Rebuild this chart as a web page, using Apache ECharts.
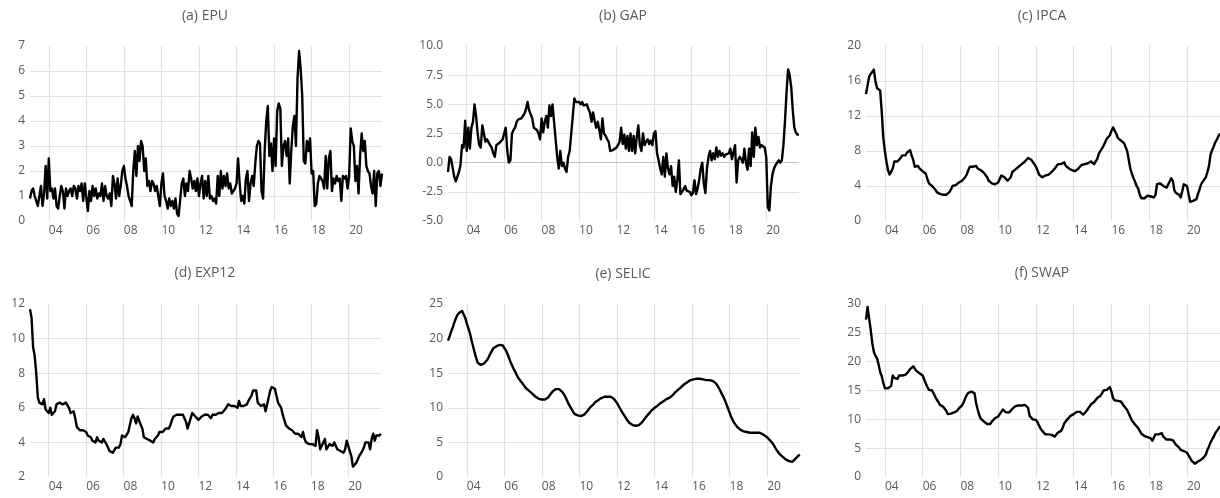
<!DOCTYPE html>
<html>
<head>
<meta charset="utf-8">
<script src="https://cdn.jsdelivr.net/npm/echarts@6/dist/echarts.min.js"></script>
<style>
  html, body { margin: 0; padding: 0; background: #fff; }
  #main { width: 1220px; height: 498px; }
</style>
</head>
<body>
<div id="main"></div>
<script>
// monthly observations, Jan 2003 .. Oct 2021
let months = [];
for (let y = 2003; y <= 2021; y++) {
  for (let m = 1; m <= 12; m++) months.push(y + "-" + String(m).padStart(2, "0"));
}
months = months.slice(0, 226);

// years that get a label + vertical gridline
const tickYears = ["04", "06", "08", "10", "12", "14", "16", "18", "20"];

const epu = [
  0.9, 1.2, 1.3, 1.0, 0.8, 0.6, 0.6, 1.4, 0.6, 1.1, 2.2, 0.9,
  2.5, 1.2, 1.3, 0.9, 1.3, 0.6, 0.5, 1.0, 1.4, 1.2, 0.5, 1.3,
  1.0, 1.2, 1.3, 1.0, 1.4, 1.3, 0.9, 1.4, 1.2, 1.5, 0.8, 1.5,
  1.5, 0.4, 1.2, 0.8, 1.4, 1.0, 1.3, 0.9, 1.1, 1.0, 1.5, 0.8,
  1.4, 1.0, 0.9, 1.1, 0.6, 1.8, 1.5, 0.9, 1.7, 1.0, 1.4, 2.0,
  2.2, 1.7, 1.4, 1.0, 0.8, 0.6, 2.0, 2.8, 1.8, 3.0, 2.4, 3.2,
  3.0, 2.0, 2.5, 1.4, 1.6, 1.2, 1.6, 1.5, 1.2, 1.4, 1.0, 0.6,
  1.5, 1.9, 1.0, 0.8, 0.5, 0.9, 0.6, 0.8, 0.5, 0.9, 0.3, 0.2,
  0.2, 1.5, 1.7, 1.0, 1.5, 1.2, 2.0, 1.7, 1.3, 1.6, 1.2, 1.7,
  1.0, 1.5, 1.8, 0.9, 1.6, 1.0, 1.8, 0.9, 1.0, 0.8, 0.9, 0.7,
  1.8, 1.0, 2.0, 1.3, 1.8, 1.4, 1.9, 1.3, 1.5, 1.1, 1.1, 1.3,
  1.5, 2.5, 1.5, 0.8, 1.0, 0.7, 1.7, 2.0, 0.8, 1.5, 1.8, 1.4,
  2.3, 3.0, 3.2, 3.1, 1.2, 0.9, 2.8, 4.0, 4.6, 2.6, 3.1, 2.0,
  3.3, 2.2, 4.4, 4.7, 4.5, 2.2, 3.0, 3.2, 2.6, 3.3, 1.5, 2.8,
  3.8, 4.2, 3.0, 5.7, 6.8, 6.1, 5.0, 2.4, 2.3, 3.2, 2.8, 3.3,
  1.9, 2.0, 0.6, 0.7, 1.5, 1.8, 1.7, 1.6, 1.3, 2.6, 1.3, 2.5,
  2.8, 1.2, 1.7, 1.5, 1.8, 1.6, 1.7, 0.8, 1.8, 1.7, 1.8, 1.3,
  1.8, 3.7, 3.2, 3.0, 1.6, 2.2, 1.1, 2.6, 3.5, 2.8, 3.2, 2.2,
  2.0, 1.9, 1.4, 1.1, 2.0, 0.6, 1.9, 2.0, 1.4, 1.9
];

const gap = [
  -0.8, 0.5, 0.3, 0.2, -1.2, -1.6, -1.5, -0.8, -0.2, 1.5, 1.3, 3.6,
  1.0, 3.0, 1.2, 3.0, 3.5, 5.0, 4.0, 2.5, 1.5, 1.3, 3.2, 2.5,
  1.8, 2.0, 1.9, 1.5, 1.3, 0.8, 0.5, 1.5, 1.6, 1.7, 1.8, 2.0,
  2.0, 3.0, 1.0, 0.0, 0.2, 2.5, 2.8, 3.0, 3.5, 3.7, 3.6, 3.8,
  4.0, 4.2, 4.6, 5.2, 4.5, 4.6, 3.8, 3.0, 2.9, 2.8, 2.5, 2.0,
  3.8, 2.6, 3.5, 4.0, 3.0, 4.9, 4.0, 5.0, 3.5, 2.0, 0.5, -0.5,
  1.0, -0.3, 0.0, -0.5, -0.8, 0.5, 1.0, 2.5, 4.0, 5.5, 5.2, 5.3,
  5.2, 5.0, 5.2, 4.9, 4.8, 5.0, 4.6, 4.3, 3.5, 4.3, 3.6, 3.0,
  3.5, 2.8, 2.0, 3.8, 2.5, 2.3, 2.0, 1.8, 1.0, 1.0, 1.1, 1.2,
  1.3, 1.5, 1.8, 3.0, 1.6, 2.4, 1.2, 2.3, 1.0, 2.5, 1.0, 2.3,
  0.8, 2.2, 3.2, 1.5, 1.0, 2.5, 1.5, 1.8, 2.0, 1.6, 1.9, 1.5,
  2.5, 2.7, 0.8, 0.2, -0.5, -1.0, 0.5, -1.2, 0.8, -0.5, -1.0, -0.3,
  -2.0, -1.2, -2.5, -1.5, 0.2, -2.7, -2.5, -2.3, -2.0, -2.4, -2.3, -2.5,
  -2.8, -2.6, -1.5, -2.7, -2.2, -1.5, -0.5, 0.0, -1.8, -2.6, -0.5, 0.5,
  1.0, 0.2, 0.8, 0.3, 1.3, 0.5, 1.0, 0.6, 0.8, 0.5, 0.7, 0.6,
  0.8, 1.2, 0.3, 0.2, 1.5, -1.7, 0.2, 0.5, 0.3, 0.0, 1.2, 0.0,
  -0.6, 1.2, -0.3, 2.6, 0.5, 3.0, 1.5, 2.2, 1.3, 1.5, 1.4, 1.3,
  0.5, -3.8, -4.1, -2.0, -1.0, -0.5, -0.2, 0.0, 0.2, 0.0, 0.2, 1.5,
  3.5, 6.0, 8.0, 7.5, 6.5, 4.5, 3.0, 2.6, 2.4, 2.4
];

const ipca = [
  14.5, 15.5, 16.5, 16.8, 17.0, 17.3, 16.0, 15.2, 15.0, 14.9, 12.5, 9.5,
  8.0, 6.8, 5.8, 5.3, 5.2, 6.0, 6.8, 7.0, 6.8, 7.0, 7.2, 7.5,
  7.5, 7.5, 7.8, 7.9, 8.1, 7.5, 7.0, 6.2, 6.0, 6.3, 6.0, 5.8,
  5.7, 5.5, 5.4, 4.8, 4.3, 4.1, 4.0, 3.8, 3.6, 3.3, 3.2, 3.1,
  3.0, 3.0, 3.0, 3.0, 3.0, 3.3, 3.6, 4.0, 4.0, 4.1, 4.2, 4.4,
  4.5, 4.6, 4.8, 5.0, 5.3, 5.8, 6.2, 6.4, 6.2, 6.4, 6.3, 6.0,
  5.8, 5.8, 5.6, 5.5, 5.3, 5.0, 4.6, 4.4, 4.3, 4.3, 4.2, 4.2,
  4.4, 4.8, 5.2, 5.3, 5.0, 4.8, 4.6, 4.6, 5.0, 5.6, 5.8, 5.9,
  6.0, 6.2, 6.4, 6.5, 6.7, 6.8, 6.9, 7.2, 7.3, 7.0, 6.8, 6.5,
  6.2, 5.8, 5.3, 5.1, 5.0, 5.0, 5.2, 5.2, 5.3, 5.4, 5.6, 5.8,
  6.0, 6.2, 6.5, 6.6, 6.5, 6.6, 6.7, 6.3, 6.1, 6.0, 5.9, 5.8,
  5.8, 5.7, 5.8, 6.0, 6.2, 6.4, 6.5, 6.5, 6.6, 6.6, 6.7, 6.8,
  6.6, 6.5, 6.5, 7.1, 7.7, 8.0, 8.3, 8.6, 9.0, 9.4, 9.5, 9.8,
  10.3, 10.7, 10.6, 10.0, 9.5, 9.4, 9.2, 9.0, 8.9, 8.7, 8.0, 7.0,
  6.0, 5.4, 4.9, 4.5, 4.0, 3.7, 3.0, 2.6, 2.5, 2.6, 2.7, 2.9,
  2.9, 2.8, 2.8, 2.7, 3.0, 4.2, 4.4, 4.3, 4.4, 4.0, 3.8, 3.8,
  3.8, 4.5, 4.9, 4.6, 3.5, 3.2, 3.4, 3.0, 2.7, 3.4, 4.2, 4.3,
  4.0, 3.1, 2.2, 2.0, 2.3, 2.4, 2.5, 3.1, 3.6, 4.2, 4.5, 4.6,
  5.0, 5.6, 6.3, 7.6, 8.1, 8.5, 9.0, 9.3, 9.7, 10.0
];

const exp12 = [
  11.7, 11.2, 9.5, 9.0, 8.0, 6.6, 6.3, 6.4, 6.2, 6.5, 5.9, 6.0,
  5.7, 6.0, 5.6, 5.5, 5.8, 6.2, 6.3, 6.3, 6.2, 6.2, 6.3, 6.3,
  6.2, 6.0, 5.7, 5.6, 5.8, 5.4, 4.9, 4.8, 4.7, 4.7, 4.7, 4.6,
  4.6, 4.4, 4.5, 4.3, 4.1, 4.0, 4.0, 4.3, 4.1, 4.0, 4.0, 4.2,
  4.1, 3.9, 3.8, 3.5, 3.4, 3.4, 3.5, 3.7, 3.8, 3.7, 3.9, 4.4,
  4.4, 4.3, 4.4, 4.6, 5.0, 5.4, 5.6, 5.4, 5.1, 5.5, 5.4, 5.0,
  4.8, 4.3, 4.2, 4.2, 4.1, 4.1, 4.1, 4.0, 4.2, 4.3, 4.4, 4.6,
  4.6, 4.6, 4.7, 4.8, 4.7, 4.8, 5.0, 5.3, 5.5, 5.6, 5.6, 5.6,
  5.6, 5.6, 5.6, 5.5, 5.2, 4.8, 4.7, 5.4, 5.7, 5.6, 5.5, 5.4,
  5.3, 5.4, 5.5, 5.5, 5.6, 5.5, 5.6, 5.5, 5.4, 5.6, 5.5, 5.6,
  5.6, 5.7, 5.7, 5.7, 5.8, 5.9, 6.0, 6.2, 6.1, 6.1, 6.0, 6.1,
  6.2, 6.0, 6.4, 6.1, 6.1, 6.1, 6.0, 6.2, 6.4, 6.5, 6.7, 7.0,
  6.9, 7.0, 6.3, 6.2, 6.1, 6.0, 6.2, 5.8, 5.7, 6.6, 7.0, 7.2,
  7.3, 7.1, 6.7, 6.3, 6.2, 6.0, 5.6, 5.3, 5.0, 4.9, 4.8, 4.8,
  4.7, 4.6, 4.5, 4.4, 4.5, 4.4, 4.3, 4.6, 4.2, 4.0, 4.1, 3.9,
  3.9, 3.9, 3.8, 3.8, 4.7, 4.3, 3.6, 3.8, 4.0, 4.2, 3.6, 3.5,
  3.9, 4.0, 3.8, 4.0, 3.8, 3.6, 3.6, 3.5, 3.5, 3.4, 3.6, 4.1,
  3.8, 3.5, 3.2, 2.6, 2.5, 2.8, 3.0, 3.2, 3.3, 3.5, 3.7, 4.0,
  4.1, 4.0, 3.6, 4.2, 4.5, 4.1, 4.4, 4.4, 4.4, 4.5
];

const selic = [
  19.7, 20.3, 21.0, 21.6, 22.3, 22.9, 23.4, 23.7, 23.9, 24.0, 23.8, 23.0,
  22.2, 21.5, 20.8, 19.8, 18.9, 18.0, 17.2, 16.5, 16.3, 16.2, 16.3, 16.4,
  16.6, 16.9, 17.3, 17.8, 18.2, 18.6, 18.8, 18.9, 19.0, 19.1, 19.2, 19.0,
  18.8, 18.3, 17.8, 17.2, 16.6, 16.1, 15.6, 15.2, 14.7, 14.3, 14.0, 13.7,
  13.4, 13.1, 12.8, 12.6, 12.4, 12.2, 12.0, 11.8, 11.6, 11.4, 11.3, 11.2,
  11.2, 11.2, 11.2, 11.3, 11.5, 11.8, 12.1, 12.4, 12.6, 12.7, 12.8, 12.7,
  12.6, 12.3, 12.0, 11.6, 11.1, 10.6, 10.2, 9.8, 9.4, 9.1, 9.0, 8.9,
  8.8, 8.8, 8.9, 9.0, 9.2, 9.5, 9.8, 10.1, 10.3, 10.5, 10.8, 11.0,
  11.1, 11.3, 11.4, 11.5, 11.6, 11.6, 11.6, 11.6, 11.6, 11.5, 11.3, 11.0,
  10.7, 10.3, 9.9, 9.5, 9.1, 8.8, 8.4, 8.1, 7.8, 7.6, 7.5, 7.4,
  7.4, 7.4, 7.5, 7.6, 7.9, 8.2, 8.5, 8.8, 9.0, 9.3, 9.6, 9.8,
  10.0, 10.2, 10.3, 10.5, 10.7, 10.8, 11.0, 11.2, 11.3, 11.4, 11.5, 11.7,
  11.9, 12.2, 12.4, 12.6, 12.8, 13.0, 13.2, 13.4, 13.6, 13.7, 13.9, 14.0,
  14.1, 14.1, 14.2, 14.2, 14.2, 14.2, 14.2, 14.1, 14.1, 14.0, 14.0, 14.0,
  14.0, 13.9, 13.8, 13.6, 13.3, 12.9, 12.5, 12.0, 11.6, 11.1, 10.5, 9.9,
  9.3, 8.7, 8.2, 7.8, 7.5, 7.2, 7.0, 6.8, 6.7, 6.6, 6.5, 6.5,
  6.4, 6.4, 6.4, 6.4, 6.4, 6.4, 6.4, 6.4, 6.3, 6.2, 6.1, 5.9,
  5.8, 5.5, 5.3, 5.0, 4.7, 4.3, 3.9, 3.6, 3.3, 3.1, 2.9, 2.7,
  2.5, 2.4, 2.3, 2.2, 2.2, 2.4, 2.6, 2.8, 3.1, 3.2
];

const swap = [
  27.3, 29.5, 27.5, 25.5, 23.2, 21.7, 21.0, 20.6, 19.5, 18.2, 17.5, 16.3,
  15.4, 15.3, 15.4, 15.2, 15.8, 17.6, 17.2, 17.5, 17.0, 17.6, 17.7, 17.6,
  17.6, 17.7, 17.8, 18.3, 18.7, 19.0, 19.2, 18.9, 18.4, 18.2, 18.0, 17.9,
  17.6, 16.9, 16.2, 15.6, 15.1, 14.8, 15.0, 14.5, 13.9, 13.4, 13.0, 12.5,
  12.4, 12.2, 11.9, 11.5, 10.9, 10.8, 11.0, 11.3, 11.2, 11.3, 11.5, 11.9,
  12.0, 12.4, 12.9, 13.6, 14.2, 14.6, 14.6, 14.8, 15.0, 14.5, 12.8, 11.7,
  10.7, 10.1, 9.8, 9.6, 9.3, 9.2, 9.1, 9.2, 9.6, 9.9, 10.2, 10.4,
  10.5, 10.8, 11.3, 11.7, 11.5, 11.2, 11.2, 11.2, 11.3, 11.8, 12.1, 12.3,
  12.3, 12.4, 12.4, 12.4, 12.4, 12.5, 12.4, 12.0, 10.6, 10.3, 10.0, 9.9,
  9.9, 9.5, 8.9, 8.4, 8.0, 7.7, 7.4, 7.3, 7.4, 7.4, 7.3, 7.2,
  7.0, 7.2, 7.7, 7.9, 8.0, 8.5, 9.3, 9.6, 10.0, 10.3, 10.6, 10.7,
  10.9, 11.2, 11.3, 11.3, 11.3, 11.0, 10.8, 11.0, 11.4, 11.8, 12.2, 12.6,
  12.7, 13.0, 13.3, 13.7, 14.0, 14.1, 14.5, 15.0, 15.3, 15.1, 15.3, 15.6,
  14.8, 13.7, 13.3, 13.0, 13.2, 13.2, 13.1, 12.8, 12.3, 12.2, 11.6, 11.0,
  10.4, 9.8, 9.5, 9.1, 8.9, 8.5, 8.0, 7.5, 7.2, 7.1, 7.0, 6.9,
  6.7, 6.7, 6.3, 6.2, 7.4, 7.6, 7.4, 7.7, 7.6, 7.0, 6.8, 6.5,
  6.4, 6.5, 6.5, 6.4, 6.1, 5.6, 5.4, 5.1, 4.7, 4.5, 4.5, 4.4,
  4.2, 3.9, 3.3, 2.8, 2.5, 2.3, 2.4, 2.7, 2.9, 3.0, 3.1, 3.5,
  3.9, 4.7, 5.3, 6.0, 6.5, 7.0, 7.6, 8.0, 8.4, 8.8
];

const titles = ["(a) EPU", "(b) GAP", "(c) IPCA", "(d) EXP12", "(e) SELIC", "(f) SWAP"];
const seriesData = [epu, gap, ipca, exp12, selic, swap];
const yMin = [0, -5, 0, 2, 0, 0];
const yMax = [7, 10, 20, 12, 25, 30];
const yStep = [1, 2.5, 4, 2, 5, 5];
const yDigits = [0, 1, 0, 0, 0, 0];

// layout of the six panels (px)
const boxes = [
  { left: 30, top: 46, width: 352, height: 175, tx: 205, ty: 9 },
  { left: 448, top: 46, width: 351, height: 175, tx: 623, ty: 9 },
  { left: 866, top: 46, width: 356, height: 175, tx: 1042, ty: 9 },
  { left: 30, top: 304, width: 351, height: 173, tx: 205, ty: 266 },
  { left: 448, top: 304, width: 352, height: 173, tx: 623, ty: 267 },
  { left: 866, top: 304, width: 356, height: 173, tx: 1042, ty: 266 }
];

const textColor = "#595959";
const gridColor = "#e0e0e0";
const font = "'Open Sans', sans-serif";

function isTick(val) {
  return tickYears.some((t) => val === "20" + t + "-01");
}

let chart = echarts.init(document.getElementById("main"), null, { renderer: "canvas" });

let option = {
  animation: false,
  backgroundColor: "#fff",
  textStyle: { fontFamily: font },
  title: [],
  grid: [],
  xAxis: [],
  yAxis: [],
  series: []
};

boxes.forEach((b, k) => {
  option.title.push({
    text: titles[k],
    left: b.tx,
    top: b.ty,
    textAlign: "center",
    padding: 0,
    textStyle: { fontFamily: font, fontSize: 14, fontWeight: "normal", color: textColor }
  });
  option.grid.push({ left: b.left, top: b.top, width: b.width, height: b.height, containLabel: false });
  option.xAxis.push({
    type: "category",
    gridIndex: k,
    data: months,
    boundaryGap: false,
    axisLine: { show: false },
    axisTick: { show: false },
    axisLabel: {
      interval: (i, v) => isTick(v),
      formatter: (v) => v.slice(2, 4),
      color: textColor,
      fontFamily: font,
      fontSize: 12,
      align: "left",
      margin: 4
    },
    splitLine: {
      show: true,
      interval: (i, v) => isTick(v),
      lineStyle: { color: gridColor, width: 1.2 }
    }
  });
  option.yAxis.push({
    type: "value",
    gridIndex: k,
    min: yMin[k],
    max: yMax[k],
    interval: yStep[k],
    axisLine: { show: false },
    axisTick: { show: false },
    axisLabel: {
      color: textColor,
      fontFamily: font,
      fontSize: 12,
      margin: 5,
      formatter: (v) => v.toFixed(yDigits[k])
    },
    splitLine: {
      show: true,
      showMinLine: false,
      showMaxLine: false,
      lineStyle: { color: gridColor, width: 1.2 }
    }
  });
  let s = {
    type: "line",
    name: titles[k],
    xAxisIndex: k,
    yAxisIndex: k,
    data: seriesData[k],
    symbol: "none",
    showSymbol: false,
    silent: true,
    lineStyle: { color: "#000", width: 2.4, join: "round" }
  };
  // GAP panel: zero line like the excel horizontal axis
  if (k === 1) {
    s.markLine = {
      silent: true,
      symbol: "none",
      label: { show: false },
      lineStyle: { color: "#c4c4c4", type: "solid", width: 1 },
      data: [{ yAxis: 0 }],
      z: 1
    };
  }
  option.series.push(s);
});

chart.setOption(option);
</script>
</body>
</html>
